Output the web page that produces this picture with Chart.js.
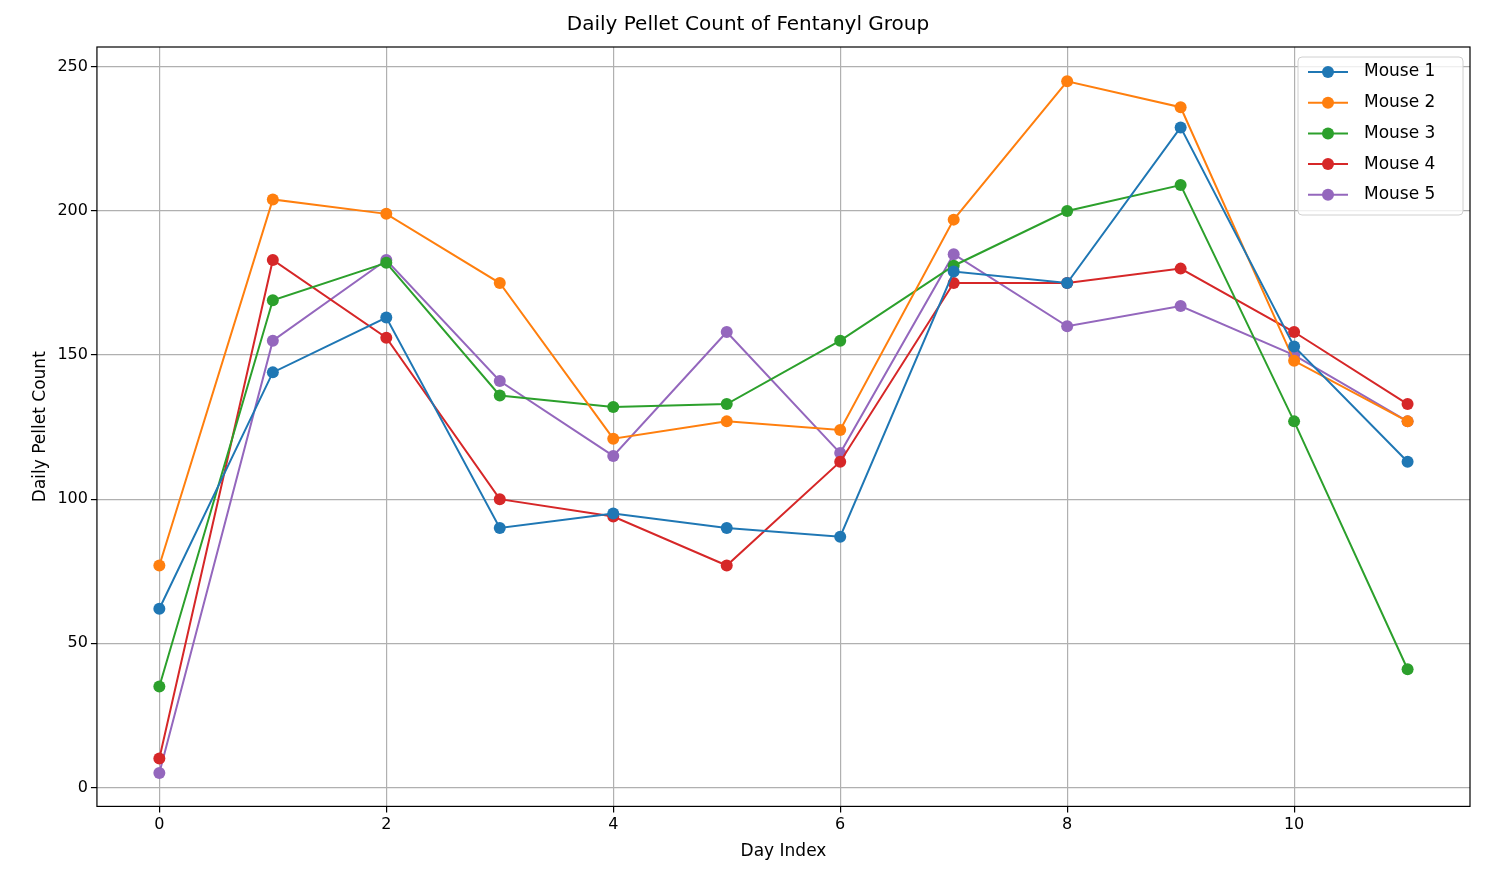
<!DOCTYPE html>
<html>
<head>
<meta charset="utf-8">
<script src="https://cdn.jsdelivr.net/npm/chart.js@4"></script>
<style>
  body { margin: 0; background: #fff; }
  #wrap { width: 1485px; height: 885px; }
</style>
</head>
<body>
<div id="wrap"><canvas id="chart"></canvas></div>
<script>
const days = [0, 1, 2, 3, 4, 5, 6, 7, 8, 9, 10, 11];
const mouseNames = ['Mouse 1', 'Mouse 2', 'Mouse 3', 'Mouse 4', 'Mouse 5'];
const mouse1 = [62, 144, 163, 90, 95, 90, 87, 179, 175, 229, 153, 113];
const mouse2 = [77, 204, 199, 175, 121, 127, 124, 197, 245, 236, 148, 127];
const mouse3 = [35, 169, 182, 136, 132, 133, 155, 181, 200, 209, 127, 41];
const mouse4 = [10, 183, 156, 100, 94, 77, 113, 175, 175, 180, 158, 133];
const mouse5 = [5, 155, 183, 141, 115, 158, 116, 185, 160, 167, 150, 127];
const colors = ['#1f77b4', '#ff7f0e', '#2ca02c', '#d62728', '#9467bd'];

const series = [mouse1, mouse2, mouse3, mouse4, mouse5];
const font = 'DejaVu Sans';

// Legend inside the plot, top right, like matplotlib
const innerLegend = {
    id: 'innerLegend',
    afterDraw(chart) {
        const { ctx, chartArea } = chart;
        const w = 165, h = 158, x = chartArea.right - w - 7, y = chartArea.top + 10;
        ctx.save();
        ctx.fillStyle = 'rgba(255,255,255,0.8)';
        ctx.strokeStyle = '#d0d0d0';
        ctx.lineWidth = 1;
        ctx.beginPath();
        ctx.roundRect(x, y, w, h, 4);
        ctx.fill();
        ctx.stroke();
        ctx.font = '17px ' + font;
        ctx.textBaseline = 'middle';
        mouseNames.forEach((name, i) => {
            const cy = y + 15 + i * 30.7;
            ctx.strokeStyle = colors[i];
            ctx.lineWidth = 2;
            ctx.beginPath();
            ctx.moveTo(x + 10, cy);
            ctx.lineTo(x + 50, cy);
            ctx.stroke();
            ctx.fillStyle = colors[i];
            ctx.beginPath();
            ctx.arc(x + 30, cy, 6, 0, Math.PI * 2);
            ctx.fill();
            ctx.fillStyle = '#000';
            ctx.fillText(name, x + 66, cy);
        });
        ctx.restore();
    }
};

// Black frame around the plot area
const frame = {
    id: 'frame',
    afterDatasetsDraw(chart) {
        const { ctx, chartArea: a } = chart;
        ctx.save();
        ctx.strokeStyle = '#000';
        ctx.lineWidth = 1.2;
        ctx.strokeRect(a.left, a.top, a.right - a.left, a.bottom - a.top);
        ctx.restore();
    }
};

new Chart(document.getElementById('chart'), {
    type: 'line',
    data: {
        datasets: series.map((vals, i) => ({
            label: mouseNames[i],
            data: vals.map((v, j) => ({ x: days[j], y: v })),
            borderColor: colors[i],
            backgroundColor: colors[i],
            borderWidth: 2,
            pointRadius: 6,
            pointHoverRadius: 6,
            pointBorderWidth: 0,
            tension: 0
        }))
    },
    options: {
        responsive: true,
        maintainAspectRatio: false,
        animation: false,
        layout: { padding: { left: 26, right: 15, top: 5, bottom: 19 } },
        plugins: {
            legend: { display: false },
            tooltip: { enabled: false },
            title: {
                display: true,
                text: 'Daily Pellet Count of Fentanyl Group',
                color: '#000',
                font: { family: font, size: 20, weight: 'normal' },
                padding: { top: 8, bottom: 10 }
            }
        },
        scales: {
            x: {
                type: 'linear',
                min: -0.55,
                max: 11.55,
                afterBuildTicks(axis) {
                    axis.ticks = [0, 2, 4, 6, 8, 10].map(v => ({ value: v }));
                },
                grid: { color: '#b0b0b0', lineWidth: 1.2, drawTicks: true, tickLength: 6, tickColor: '#000' },
                border: { display: false },
                ticks: { color: '#000', font: { family: font, size: 16 } },
                title: { display: true, text: 'Day Index', color: '#000', font: { family: font, size: 17 } }
            },
            y: {
                min: -6.6,
                max: 256.9,
                afterBuildTicks(axis) {
                    axis.ticks = [0, 50, 100, 150, 200, 250].map(v => ({ value: v }));
                },
                grid: { color: '#b0b0b0', lineWidth: 1.2, drawTicks: true, tickLength: 6, tickColor: '#000' },
                border: { display: false },
                ticks: { color: '#000', font: { family: font, size: 16 } },
                title: { display: true, text: 'Daily Pellet Count', color: '#000', font: { family: font, size: 17 } }
            }
        }
    },
    plugins: [innerLegend, frame]
});
</script>
</body>
</html>
